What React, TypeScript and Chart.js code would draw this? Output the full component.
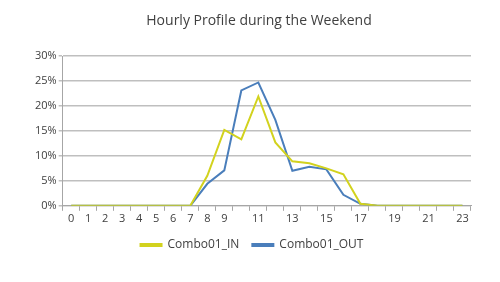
import React, { useEffect, useRef } from "react";
import { Chart, registerables } from "chart.js";

Chart.register(...registerables);

const hours = Array.from({ length: 24 }, (_, i) => String(i));
const shownLabels = ["0","1","2","3","4","5","6","7","8","9","11","13","15","17","19","21","23"];
const comboIn = [0,0,0,0,0,0,0,0,6.0,15.2,13.3,21.9,12.7,8.9,8.5,7.5,6.3,0.4,0,0,0,0,0,0];
const comboOut = [0,0,0,0,0,0,0,0,4.4,7.1,23.1,24.7,17.2,7.0,7.8,7.3,2.2,0.4,0,0,0,0,0,0];
const yTicks = [0, 5, 10, 15, 20, 25, 30];
const titleText = "Hourly Profile during the Weekend";

const FONT = "'Open Sans', 'DejaVu Sans', sans-serif";

const titlePlugin = {
  id: "customTitle",
  afterDraw(chart: any) {
    const ctx = chart.ctx;
    ctx.save();
    ctx.font = `14px ${FONT}`;
    ctx.fillStyle = "#404040";
    ctx.textAlign = "center";
    ctx.textBaseline = "middle";
    ctx.fillText(titleText, 259, 21);
    ctx.restore();
  },
};

export default function App() {
  const ref = useRef<HTMLCanvasElement | null>(null);
  useEffect(() => {
    if (!ref.current) return;
    const chart = new Chart(ref.current, {
      type: "line",
      data: {
        labels: hours,
        datasets: [
          { label: "Combo01_IN", data: comboIn, borderColor: "#d2d21e", backgroundColor: "#d2d21e", borderWidth: 2, pointRadius: 0, tension: 0 },
          { label: "Combo01_OUT", data: comboOut, borderColor: "#4a7ebb", backgroundColor: "#4a7ebb", borderWidth: 2, pointRadius: 0, tension: 0 },
        ],
      },
      plugins: [titlePlugin],
      options: {
        responsive: false,
        animation: false,
        layout: { padding: { left: 33, right: 29, top: 56, bottom: 21 } },
        plugins: {
          title: { display: false },
          legend: {
            position: "bottom",
            labels: {
              color: "#404040",
              font: { family: FONT, size: 12 },
              boxWidth: 21,
              boxHeight: 2,
              padding: 13,
            },
          },
          tooltip: { enabled: false },
        },
        scales: {
          x: {
            offset: true,
            grid: { offset: true, drawOnChartArea: false, tickLength: 5, color: "#a6a6a6" },
            border: { color: "#a6a6a6" },
            ticks: {
              autoSkip: false,
              maxRotation: 0,
              color: "#404040",
              font: { family: FONT, size: 11 },
              padding: 1,
              callback: (v: any, i: number) => (shownLabels.includes(hours[i]) ? hours[i] : ""),
            },
          },
          y: {
            min: 0,
            max: 30,
            afterBuildTicks: (s: any) => { s.ticks = yTicks.map((v) => ({ value: v })); },
            grid: { color: "#bfbfbf", tickLength: 4, lineWidth: 1.5 },
            border: { color: "#a6a6a6" },
            ticks: {
              color: "#404040",
              font: { family: FONT, size: 11 },
              padding: 2,
              callback: (v: any) => v + "%",
            },
          },
        },
      },
    });
    return () => chart.destroy();
  }, []);
  return (
    <div style={{ position: "fixed", left: 0, top: 0, width: 500, height: 282, background: "#fff" }}>
      <canvas ref={ref} width={500} height={282} />
    </div>
  );
}
